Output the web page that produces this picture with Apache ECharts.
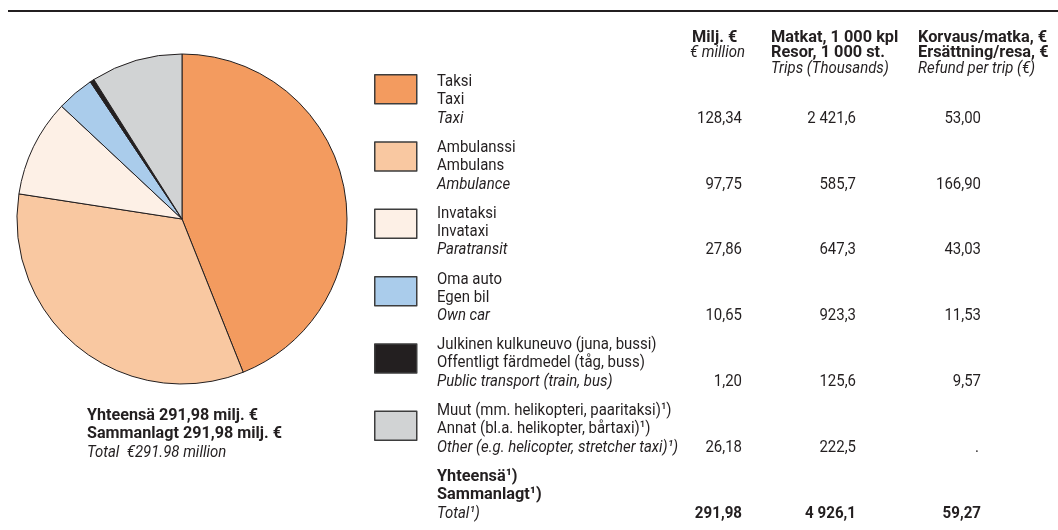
<!DOCTYPE html>
<html>
<head>
<meta charset="utf-8">
<script src="https://cdn.jsdelivr.net/npm/echarts@6/dist/echarts.min.js"></script>
<style>
    html, body { margin: 0; padding: 0; background: #fff; }
    #chart { width: 1058px; height: 530px; }
</style>
</head>
<body>
<div id="chart"></div>
<script>
// data
var namesFi = ['Taksi', 'Ambulanssi', 'Invataksi', 'Oma auto', 'Julkinen kulkuneuvo (juna, bussi)', 'Muut (mm. helikopteri, paaritaksi)¹)'];
var namesSv = ['Taxi', 'Ambulans', 'Invataxi', 'Egen bil', 'Offentligt färdmedel (tåg, buss)', 'Annat (bl.a. helikopter, bårtaxi)¹)'];
var namesEn = ['Taxi', 'Ambulance', 'Paratransit', 'Own car', 'Public transport (train, bus)', 'Other (e.g. helicopter, stretcher taxi)¹)'];
var costs = [128.34, 97.75, 27.86, 10.65, 1.20, 26.18];      // Milj. €
var trips = [2421.6, 585.7, 647.3, 923.3, 125.6, 222.5];     // 1 000 kpl
var refunds = [53.00, 166.90, 43.03, 11.53, 9.57, null];      // € / matka
var totals = [291.98, 4926.1, 59.27];
var colors = ['#F39B5F', '#F9C8A1', '#FDF0E6', '#AACCEB', '#231F20', '#D1D3D4'];

var ink = '#231F20';

function fmt(v, d) {
    if (v === null) return '.';
    var parts = v.toFixed(d).split('.');
    parts[0] = parts[0].replace(/\B(?=(\d{3})+(?!\d))/g, ' ');
    return parts.join(',');
}

// condensed look: roboto squeezed horizontally
function txt(x, y, s, o) {
    o = o || {};
    return {
        type: 'text',
        x: x,
        y: y,
        scaleX: o.sx || 0.88,
        silent: true,
        style: {
            text: s,
            fill: ink,
            fontFamily: 'Roboto',
            fontSize: o.size || 17,
            fontWeight: o.bold ? 'bold' : 'normal',
            fontStyle: o.italic ? 'italic' : 'normal',
            textAlign: o.align || 'left',
            textVerticalAlign: 'middle'
        }
    };
}

var chart = echarts.init(document.getElementById('chart'));

var graphics = [
    { type: 'line', silent: true, shape: { x1: 8, y1: 11, x2: 1058, y2: 11 }, style: { stroke: ink, lineWidth: 2 } }
];

// header
var hb = { bold: true, sx: 0.96 };
var hi = { italic: true };
graphics.push(txt(692, 38, 'Milj. €', hb));
graphics.push(txt(690, 53, '€ million', hi));
graphics.push(txt(771, 38, 'Matkat, 1 000 kpl', hb));
graphics.push(txt(771, 53, 'Resor, 1 000 st.', hb));
graphics.push(txt(771, 69, 'Trips (Thousands)', hi));
graphics.push(txt(918, 38, 'Korvaus/matka, €', hb));
graphics.push(txt(918, 53, 'Ersättning/resa, €', hb));
graphics.push(txt(918, 69, 'Refund per trip (€)', hi));

// rows
var rowTop = 82, rowStep = 65.8;
var colX = [742, 856, 981];
var nb = { bold: true, align: 'right', sx: 0.89 };
for (var i = 0; i <= namesFi.length; i++) {
    var y = rowTop + i * rowStep;
    if (i === namesFi.length) {
        graphics.push(txt(437, y, 'Yhteensä¹)', hb));
        graphics.push(txt(437, y + 18, 'Sammanlagt¹)', hb));
        graphics.push(txt(437, y + 36.5, 'Total¹)', { italic: true }));
        graphics.push(txt(colX[0], y + 36.5, fmt(totals[0], 2), nb));
        graphics.push(txt(colX[1], y + 36.5, fmt(totals[1], 1), nb));
        graphics.push(txt(colX[2], y + 36.5, fmt(totals[2], 2), nb));
    } else {
        graphics.push(txt(437, y, namesFi[i]));
        graphics.push(txt(437, y + 18, namesSv[i]));
        graphics.push(txt(437, y + 36.5, namesEn[i], { italic: true }));
        graphics.push(txt(colX[0], y + 36.5, fmt(costs[i], 2), { align: 'right' }));
        graphics.push(txt(colX[1], y + 36.5, fmt(trips[i], 1), { align: 'right' }));
        graphics.push(txt(colX[2] - (refunds[i] === null ? 2 : 0), y + 36.5, fmt(refunds[i], 2), { align: 'right' }));
    }
}

// total under the pie
graphics.push(txt(87, 416, 'Yhteensä ' + fmt(totals[0], 2) + ' milj. €', { bold: true, sx: 0.95 }));
graphics.push(txt(87, 434, 'Sammanlagt ' + fmt(totals[0], 2) + ' milj. €', { bold: true, sx: 0.95 }));
graphics.push(txt(87, 453, 'Total  €' + totals[0].toFixed(2) + ' million', { italic: true }));

chart.setOption({
    animation: false,
    backgroundColor: '#fff',
    color: colors,
    legend: {
        orient: 'vertical',
        left: 374,
        top: 74,
        icon: 'rect',
        itemWidth: 42,
        itemHeight: 29,
        itemGap: 36.8,
        padding: 0,
        selectedMode: false,
        formatter: function () { return ''; },
        itemStyle: { borderColor: '#3d3d3d', borderWidth: 1.5 },
        data: namesFi
    },
    graphic: graphics,
    series: [{
        type: 'pie',
        center: [182, 219],
        radius: 165,
        startAngle: 90,
        clockwise: true,
        label: { show: false },
        labelLine: { show: false },
        emphasis: { disabled: true },
        itemStyle: { borderColor: ink, borderWidth: 1 },
        data: namesFi.map(function (n, i) { return { name: n, value: costs[i] }; })
    }]
});
</script>
</body>
</html>
